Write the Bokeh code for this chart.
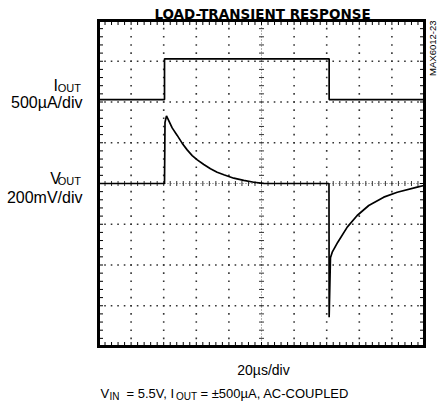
import numpy as np
from bokeh.plotting import figure
from bokeh.models import Range1d, Label
from bokeh.embed import file_html
from bokeh.resources import INLINE

# ---- scope settings ----
time_per_div = 20      # µs/div
vout_per_div = 200     # mV/div
iout_per_div = 500     # µA/div
n_xdiv = 10
n_ydiv = 8

# ---- data ----
t_iout = [0, 40.5, 40.5, 141.5, 141.5, 200]          # µs
iout = [0, 0, 500, 500, 0, 0]                          # µA

t_vout = [0, 40.5, 40.8, 41.7, 43.1, 45.2, 48.3, 51.3, 54.4, 57.5, 60.6, 64.6,
          68.7, 72.8, 76.9, 83.0, 89.1, 95.3, 101.4, 141.4, 141.5, 142.3, 143.4,
          146.8, 152.6, 158.7, 165.8, 175.0, 183.3, 195.5, 199.6]
vout = [0, 0, 300, 332, 309, 273, 236, 198, 165, 137, 116, 93,
        72, 55, 43, 26, 15, 6, 1, 0, -656, -365, -337,
        -288, -214, -157, -108, -67, -43, -18, -10]   # mV (AC-coupled)

# ---- layout: scope screen position on the canvas (pixels) ----
FL, FT, FW, FH = 98, 20, 326, 326
xspan = n_xdiv * time_per_div
yspan = n_ydiv * vout_per_div
ispan = n_ydiv * iout_per_div
i_top = 970                         # I_OUT channel offset (µA at top of screen)

def X(px):
    return (px - FL) / FW * xspan
def Y(py):
    return yspan / 2 - (py - FT) / FH * yspan
def IY(py):
    return i_top - (py - FT) / FH * ispan

W, H = 437, 407
p = figure(width=W, height=H,
           x_range=Range1d(X(0), X(W)),
           y_range=Range1d(Y(H), Y(0)),
           x_axis_type=None, y_axis_type=None,
           output_backend="svg", toolbar_location=None, min_border=0)
p.extra_y_ranges = {"iout": Range1d(IY(H), IY(0))}
p.outline_line_color = None
p.background_fill_color = "white"
p.border_fill_color = "white"

px_x = FW / xspan      # pixels per µs
px_y = FH / yspan      # pixels per mV
x0, x1, y0, y1 = 0, xspan, -yspan / 2, yspan / 2

# ---- graticule ----
minor_x = np.arange(x0, x1 + 0.01, time_per_div / 5)
minor_y = np.arange(y0, y1 + 0.01, vout_per_div / 5)
vx = [time_per_div * k for k in range(1, n_xdiv) if k != n_xdiv // 2]
hy = [vout_per_div * k + y0 for k in range(1, n_ydiv) if k != n_ydiv // 2]
gx, gy = np.meshgrid(vx, minor_y[1:-1])
p.scatter(gx.ravel(), gy.ravel(), marker="square", size=1.6, color="#333333", line_width=0)
hx, hy2 = np.meshgrid(minor_x[1:-1], hy)
p.scatter(hx.ravel(), hy2.ravel(), marker="square", size=1.6, color="#333333", line_width=0)

# centre lines with cross ticks
cx = xspan / 2
p.line([cx, cx], [y0, y1], color="#666666", line_width=1, line_dash="1 2")
p.line([x0, x1], [0, 0], color="#666666", line_width=1, line_dash="1 2")
p.scatter(np.full(len(minor_y), cx), minor_y, marker="dash", size=5, color="#333333", line_width=1)
p.scatter(minor_x, np.zeros(len(minor_x)), marker="dash", angle=np.pi / 2, size=5, color="#333333", line_width=1)

# inward border ticks
tl_x = 4.5 / px_x
tl_y = 4.5 / px_y
p.segment(minor_x, np.full(len(minor_x), y1), minor_x, np.full(len(minor_x), y1 - tl_y), color="black", line_width=1)
p.segment(minor_x, np.full(len(minor_x), y0), minor_x, np.full(len(minor_x), y0 + tl_y), color="black", line_width=1)
p.segment(np.full(len(minor_y), x0), minor_y, np.full(len(minor_y), x0 + tl_x), minor_y, color="black", line_width=1)
p.segment(np.full(len(minor_y), x1), minor_y, np.full(len(minor_y), x1 - tl_x), minor_y, color="black", line_width=1)

# ---- traces ----
p.line(t_iout, iout, y_range_name="iout", color="black", line_width=1.7)
p.line(t_vout, vout, color="black", line_width=1.7)

# screen border
p.quad(left=[x0], right=[x1], bottom=[y0], top=[y1], fill_color=None,
       line_color="black", line_width=3, line_join="miter")

# ---- texts ----
F = "Liberation Sans"
def lab(px, py, text, size, align="left", style="normal", angle=0,
        baseline="alphabetic", font=F):
    p.add_layout(Label(x=X(px), y=Y(py), text=text, text_font=font,
                       text_font_size=f"{size}px", text_align=align,
                       text_baseline=baseline, text_font_style=style,
                       text_color="black", angle=angle))

lab(262, 13.5, "LOAD-TRANSIENT RESPONSE", 13.5, align="center", style="bold", font="DejaVu Sans")
lab(431.5, 20, "MAX6012-23", 9.5, align="right", angle=np.pi / 2, baseline="middle")

lab(57.5, 85, "I", 16, align="right")
lab(80.5, 87.5, "OUT", 11, align="right")
lab(82, 101.5, "500µA/div", 16, align="right")
lab(60.5, 178, "V", 16, align="right")
lab(80.5, 180.5, "OUT", 11, align="right")
lab(82, 197, "200mV/div", 16, align="right")

lab(263, 369, "20µs/div", 14, align="center")
lab(100, 393, "V", 13)
lab(109, 395.5, "IN", 10)
lab(126, 393, "= 5.5V, I", 13)
lab(175.5, 395.5, "OUT", 10)
lab(200, 393, "= ±500µA, AC-COUPLED", 13)

open("out.html", "w").write(file_html(p, INLINE))
